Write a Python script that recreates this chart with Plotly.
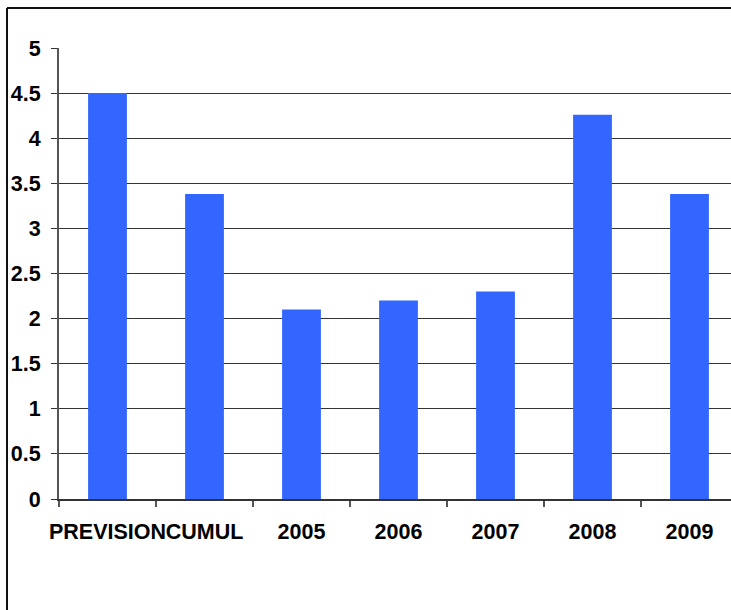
import plotly.graph_objects as go

categories = ["PREVISION", "CUMUL", "2005", "2006", "2007", "2008", "2009"]
values = [4.5, 3.38, 2.1, 2.2, 2.3, 4.26, 3.38]
y_ticks = [0, 0.5, 1, 1.5, 2, 2.5, 3, 3.5, 4, 4.5, 5]
y_tick_text = ["0", "0.5", "1", "1.5", "2", "2.5", "3", "3.5", "4", "4.5", "5"]

W, H = 731, 610
left, top, bottom = 59, 48, 111
plot_w = W - left
plot_h = H - top - bottom
cat_px = 97  # width of one category slot

font = dict(family="Liberation Sans, Arial, sans-serif", size=21.5, color="black", weight="bold")

fig = go.Figure(
    go.Bar(x=categories, y=values, marker=dict(color="#3366FF", line=dict(width=0)))
)

fig.update_layout(
    width=W,
    height=H,
    margin=dict(l=left, r=0, t=top, b=bottom, pad=0),
    paper_bgcolor="white",
    plot_bgcolor="white",
    bargap=0.6,
    showlegend=False,
    font=font,
)

fig.update_xaxes(
    type="category",
    range=[-0.5, plot_w / cat_px - 0.5],
    tickson="boundaries",
    tickangle=0,
    ticks="outside",
    ticklen=6,
    tickwidth=2,
    tickcolor="#555555",
    showline=True,
    mirror=False,
    linecolor="#333333",
    linewidth=2,
    showgrid=False,
    tickfont=font,
    ticklabelstandoff=12,
)

fig.update_yaxes(
    range=[0, 5],
    tickvals=y_ticks,
    ticktext=y_tick_text,
    ticks="outside",
    ticklen=6,
    tickwidth=1,
    tickcolor="#333333",
    showline=True,
    mirror=False,
    linecolor="#555555",
    linewidth=2,
    showgrid=True,
    gridcolor="#333333",
    gridwidth=1,
    zeroline=False,
    tickfont=font,
    ticklabelstandoff=6,
)

# outer frame of the chart: its left and top edges lie on the page
fx0 = (7 - left) / plot_w
fy1 = (H - bottom - 8) / plot_h
fig.add_shape(type="line", xref="paper", yref="paper",
              x0=fx0, x1=fx0, y0=-bottom / plot_h, y1=fy1,
              line=dict(color="#111111", width=2))
fig.add_shape(type="line", xref="paper", yref="paper",
              x0=fx0, x1=1.0, y0=fy1, y1=fy1,
              line=dict(color="#111111", width=2))

fig.write_html("out.html", config={"displayModeBar": False, "staticPlot": True})
